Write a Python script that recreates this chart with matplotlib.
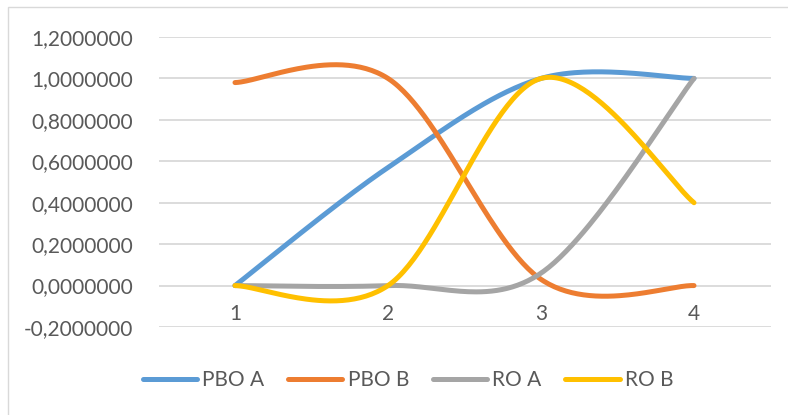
import numpy as np
import matplotlib.pyplot as plt
from matplotlib.patches import Rectangle

categories = [1, 2, 3, 4]
pbo_a = [0.0, 0.57, 1.0, 1.0]
pbo_b = [0.98, 1.0, 0.03, 0.0]
ro_a = [0.0, 0.0, 0.06, 1.0]
ro_b = [0.0, 0.0, 1.0, 0.40]

series = [
    ("PBO A", pbo_a, "#5B9BD5"),
    ("PBO B", pbo_b, "#ED7D31"),
    ("RO A", ro_a, "#A5A5A5"),
    ("RO B", ro_b, "#FFC000"),
]
y_ticks = [-0.2, 0.0, 0.2, 0.4, 0.6, 0.8, 1.0, 1.2]


def smooth(xs, ys, n=60):
    # Catmull-Rom style bezier segments, like a smoothed office line
    p = np.column_stack([xs, ys]).astype(float)
    out = []
    for i in range(len(p) - 1):
        p0 = p[i - 1] if i > 0 else p[i]
        p1, p2 = p[i], p[i + 1]
        p3 = p[i + 2] if i + 2 < len(p) else p[i + 1]
        c1 = p1 + (p2 - p0) / 6
        c2 = p2 - (p3 - p1) / 6
        t = np.linspace(0, 1, n)[:, None]
        seg = ((1 - t) ** 3 * p1 + 3 * (1 - t) ** 2 * t * c1
               + 3 * (1 - t) * t ** 2 * c2 + t ** 3 * p2)
        out.append(seg if i == 0 else seg[1:])
    seg = np.vstack(out)
    return seg[:, 0], seg[:, 1]


plt.rcParams['font.family'] = ['Lato', 'DejaVu Sans']
fig = plt.figure(figsize=(7.88, 4.15), dpi=100)
ax = fig.add_axes([158.5 / 788, 1 - 327 / 415, 612 / 788, 290 / 415])

# chart area border
fig.patches.append(Rectangle((8 / 788, -0.1), 1.2, 1 - 7 / 415 + 0.1,
                             transform=fig.transFigure, fill=False,
                             edgecolor="#D9D9D9", linewidth=1))

for name, vals, color in series:
    sx, sy = smooth(categories, vals)
    ax.plot(sx, sy, color=color, linewidth=3.6, label=name,
            solid_capstyle='round')

ax.set_xlim(0.5, 4.5)
ax.set_ylim(-0.2, 1.2)
ax.set_yticks(y_ticks)
ax.set_yticklabels([f"{v:.7f}".replace(".", ",") for v in y_ticks])
ax.set_xticks(categories)
ax.set_xticklabels([str(c) for c in categories])
ax.spines['bottom'].set_position(('data', 0))
for s in ax.spines.values():
    s.set_visible(False)
ax.tick_params(axis='both', length=0, labelsize=15, labelcolor="#595959")
ax.tick_params(axis='y', pad=18)
ax.tick_params(axis='x', pad=13)
ax.grid(axis='y', color="#D9D9D9", linewidth=1.3)
ax.set_axisbelow(True)

fig.legend(loc='center', bbox_to_anchor=(408 / 788, 1 - 380 / 415), ncol=4,
           frameon=False, fontsize=15, labelcolor="#595959",
           handlelength=2.6, handletextpad=0.25, columnspacing=1.15)

fig.savefig("out.png", dpi=100)
